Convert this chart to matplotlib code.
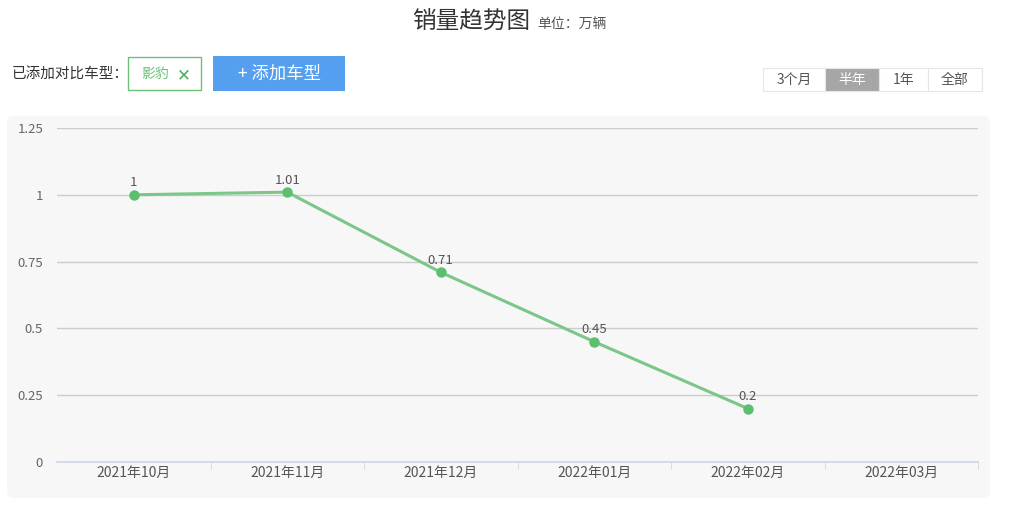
import matplotlib
matplotlib.use("Agg")
import matplotlib.pyplot as plt
from matplotlib.patches import FancyBboxPatch, Rectangle

plt.rcParams["font.family"] = ["Noto Sans CJK SC", "DejaVu Sans"]

# data
months = ["2021年10月", "2021年11月", "2021年12月", "2022年01月", "2022年02月", "2022年03月"]
sales = [1, 1.01, 0.71, 0.45, 0.2]          # 万辆, 2022年03月 无数据
sales_labels = ["1", "1.01", "0.71", "0.45", "0.2"]
y_ticks = [0, 0.25, 0.5, 0.75, 1, 1.25]
y_tick_labels = ["0", "0.25", "0.5", "0.75", "1", "1.25"]
range_buttons = ["3个月", "半年", "1年", "全部"]

W, H = 1017, 509
fig = plt.figure(figsize=(W / 100, H / 100), dpi=100)

# UI layer in pixel coordinates
ui = fig.add_axes([0, 0, 1, 1])
ui.set_xlim(0, W)
ui.set_ylim(H, 0)
ui.axis("off")

# chart panel background
ui.add_patch(FancyBboxPatch((7, 116), 983, 382, boxstyle="round,pad=0,rounding_size=6",
                            facecolor="#f7f7f7", edgecolor="none"))

# title
ui.text(530, 22, "销量趋势图", fontsize=17, color="#333333", ha="right", va="center")
ui.text(537, 25, "单位：万辆", fontsize=10, color="#555555", ha="left", va="center")

# compare controls
ui.text(12, 74, "已添加对比车型：", fontsize=10.5, color="#333333", ha="left", va="center")
ui.add_patch(Rectangle((128, 57), 73, 33, facecolor="white", edgecolor="#6cc07a", lw=1))
ui.text(141, 74, "影豹", fontsize=10, color="#6cc07a", ha="left", va="center")
ui.text(184, 75, "✕", fontsize=12, color="#4cae5c", ha="center", va="center",
        family=["DejaVu Sans"], fontweight="bold")
ui.add_patch(Rectangle((213, 56), 132, 35, facecolor="#559ff0", edgecolor="none"))
ui.text(279, 74, "+ 添加车型", fontsize=12.5, color="white", ha="center", va="center")

# range buttons
edges = [763, 825, 879, 928, 982]
for i, name in enumerate(range_buttons):
    active = name == "半年"
    ui.add_patch(Rectangle((edges[i], 68), edges[i + 1] - edges[i], 23,
                           facecolor="#a6a6a6" if active else "white",
                           edgecolor="#e6e6e6", lw=0.8))
    ui.text((edges[i] + edges[i + 1]) / 2, 79.5, name, fontsize=10,
            color="white" if active else "#555555", ha="center", va="center")

# chart axes
ax = fig.add_axes([57 / W, 47 / H, 921 / W, 334 / H])
ax.patch.set_alpha(0)
x = list(range(len(months)))
ax.set_xlim(-0.5, len(months) - 0.5)
ax.set_ylim(0, 1.25)

ax.plot(x[:len(sales)], sales, color="#7cc68a", lw=2.2, marker="o", markersize=6.5,
        markerfacecolor="#5cbf6e", markeredgecolor="#5cbf6e", zorder=3)
for xi, v, lab in zip(x, sales, sales_labels):
    ax.annotate(lab, (xi, v), xytext=(0, 4), textcoords="offset points",
                ha="center", va="bottom", fontsize=9.5, color="#555555")

ax.set_yticks(y_ticks)
ax.set_yticklabels(y_tick_labels)
ax.grid(axis="y", color="#cccccc", lw=1)
ax.set_axisbelow(True)
ax.tick_params(axis="y", length=0, pad=10, labelsize=9.5, labelcolor="#666666")

ax.set_xticks(x)
ax.set_xticklabels(months)
ax.tick_params(axis="x", length=0, pad=3, labelsize=10, labelcolor="#555555")
ax.set_xticks([i + 0.5 for i in x], minor=True)
ax.tick_params(axis="x", which="minor", length=5, color="#ccd6eb", direction="out")

for s in ["top", "right", "left"]:
    ax.spines[s].set_visible(False)
ax.spines["bottom"].set_color("#ccd6eb")
ax.spines["bottom"].set_linewidth(1.2)

fig.savefig("out.png", dpi=100)
